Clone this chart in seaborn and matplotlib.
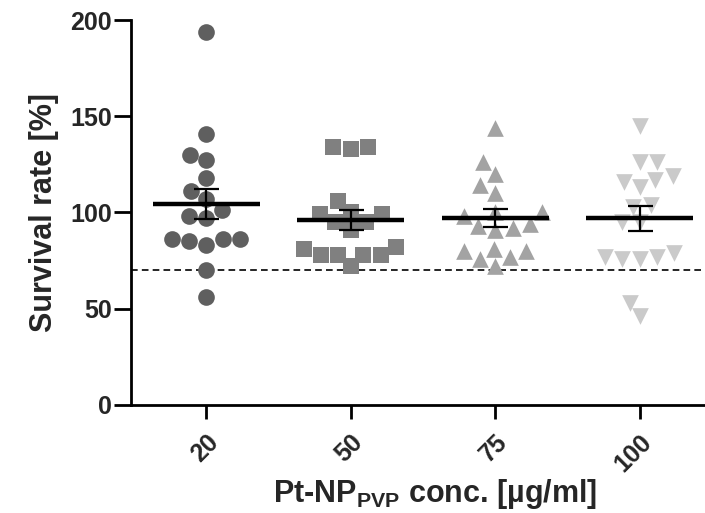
import numpy as np
import pandas as pd
import matplotlib
matplotlib.use("Agg")
import matplotlib.pyplot as plt
import seaborn as sns

categories = ["20", "50", "75", "100"]
vals_20 = [194, 141, 130, 127, 118, 111, 107, 101, 98, 97, 86, 86, 83, 86, 85, 70, 56]
vals_50 = [134, 133, 134, 106, 99, 99, 100, 95, 95, 91, 82, 78, 78, 78, 78, 81, 72]
vals_75 = [144, 126, 120, 114, 110, 100, 100, 98, 92, 94, 91, 93, 77, 80, 81, 76, 80, 72]
vals_100 = [145, 126, 126, 119, 117, 116, 113, 103, 104, 95, 95, 76, 77, 76, 79, 77, 53, 46]
threshold = 70
y_ticks = [0, 50, 100, 150, 200]

series = [vals_20, vals_50, vals_75, vals_100]
colors = ["#5f5f5f", "#808080", "#a3a3a3", "#cacaca"]
markers = ["o", "s", "^", "v"]

df = pd.DataFrame({
    "conc": np.concatenate([[c] * len(v) for c, v in zip(categories, series)]),
    "rate": np.concatenate(series),
})

sns.set_theme(style="ticks")
plt.rcParams["font.family"] = ["Liberation Sans", "DejaVu Sans"]
plt.rcParams["mathtext.fontset"] = "custom"
plt.rcParams["mathtext.rm"] = "Liberation Sans:bold"
plt.rcParams["mathtext.it"] = "Liberation Sans:bold"
plt.rcParams["mathtext.bf"] = "Liberation Sans:bold"

fig = plt.figure(figsize=(7.05, 5.13), dpi=100)
ax = fig.add_axes([0.186, 0.211, 0.814, 0.75])

for cat, col, mk in zip(categories, colors, markers):
    sub = df[df["conc"] == cat]
    sns.swarmplot(data=sub, x="conc", y="rate", order=categories, color=col,
                  marker=mk, size=12, linewidth=0, ax=ax, zorder=2)

# mean and SEM
for i, v in enumerate(series):
    v = np.asarray(v, dtype=float)
    m = v.mean()
    sem = v.std(ddof=1) / np.sqrt(len(v))
    ax.hlines(m, i - 0.37, i + 0.37, color="black", lw=3.2, zorder=4)
    ax.errorbar(i, m, yerr=sem, color="black", lw=1.6, capsize=9, capthick=1.6, zorder=5)

ax.axhline(threshold, color="black", lw=1.2, ls=(0, (4, 2.5)), zorder=1)

ax.set_xlim(-0.52, 3.45)
ax.set_ylim(0, 200)
ax.set_yticks(y_ticks)
ax.set_yticklabels([str(t) for t in y_ticks], fontsize=18, fontweight="bold")
ax.set_xticks(range(len(categories)))
ax.set_xticklabels(categories, fontsize=18, fontweight="bold", rotation=45,
                   ha="right", rotation_mode="anchor")
ax.set_ylabel("Survival rate [%]", fontsize=22, fontweight="bold", labelpad=8)
ax.set_xlabel("")
fig.text(0.617, 0.038, "Pt-NP$_\\mathrm{PVP}$ conc. [µg/ml]", fontsize=22,
         fontweight="bold", ha="center", va="center")

for s in ["top", "right"]:
    ax.spines[s].set_visible(False)
for s in ["left", "bottom"]:
    ax.spines[s].set_linewidth(2)
    ax.spines[s].set_color("black")
ax.tick_params(axis="both", width=2, length=10, color="black", direction="out")
ax.tick_params(axis="y", length=12, pad=2)
ax.tick_params(axis="x", pad=8)

fig.savefig("out.png", dpi=100)
